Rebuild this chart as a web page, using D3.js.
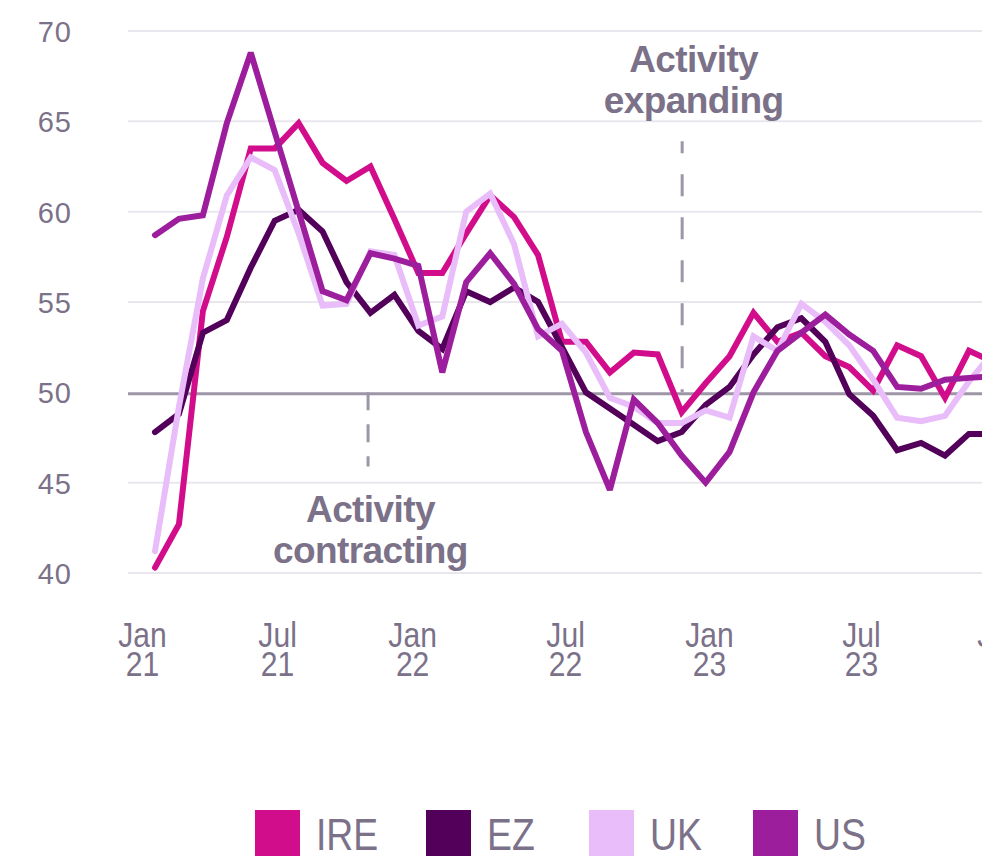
<!DOCTYPE html>
<html>
<head>
<meta charset="utf-8">
<script src="https://cdn.jsdelivr.net/npm/d3@7"></script>
<style>
  html, body { margin: 0; padding: 0; background: #ffffff; }
  svg { display: block; }
</style>
</head>
<body>
<svg id="chart" width="982" height="856"></svg>
<script>
// ---------- DATA ----------
const months = d3.timeMonth.range(new Date(2021, 0, 1), new Date(2024, 0, 1)); // Jan 21 .. Dec 23

const seriesNames = ["IRE", "EZ", "UK", "US"];

const ire = [40.3, 42.7, 54.5, 58.6, 63.5, 63.5, 64.9, 62.7, 61.7, 62.5, 59.6, 56.6,
             56.6, 58.8, 60.9, 59.7, 57.6, 52.8, 52.8, 51.1, 52.2, 52.1, 48.9, 50.5,
             52.0, 54.4, 52.8, 53.3, 52.0, 51.4, 50.1, 52.6, 52.0, 49.7, 52.3, 51.7];

const ez  = [47.8, 48.8, 53.3, 54.0, 56.9, 59.5, 60.1, 58.9, 56.1, 54.4, 55.4, 53.4,
             52.4, 55.6, 55.0, 55.8, 55.0, 52.5, 50.0, 49.1, 48.2, 47.3, 47.8, 49.3,
             50.3, 52.1, 53.6, 54.1, 52.8, 49.9, 48.7, 46.8, 47.2, 46.5, 47.7, 47.7];

const uk  = [41.2, 49.2, 56.3, 60.9, 63.0, 62.3, 58.8, 54.8, 54.9, 57.8, 57.6, 53.7,
             54.2, 60.0, 61.0, 58.2, 53.1, 53.8, 52.2, 49.7, 49.2, 48.3, 48.3, 49.0,
             48.6, 53.1, 52.3, 54.9, 53.9, 52.6, 50.7, 48.6, 48.4, 48.7, 50.6, 52.2];

const us  = [58.7, 59.6, 59.8, 64.9, 68.8, 64.4, 60.0, 55.6, 55.1, 57.7, 57.4, 57.0,
             51.1, 56.1, 57.7, 56.0, 53.5, 52.3, 47.8, 44.6, 49.6, 48.3, 46.5, 45.0,
             46.7, 50.0, 52.3, 53.3, 54.3, 53.2, 52.3, 50.3, 50.2, 50.7, 50.8, 50.9];

const yTicks = [40, 45, 50, 55, 60, 65, 70];
const xTickLabels = [["Jan", "21"], ["Jul", "21"], ["Jan", "22"], ["Jul", "22"], ["Jan", "23"], ["Jul", "23"], ["Jan", "24"]];

const annotations = [
  { lines: ["Activity", "expanding"], from: 50, to: 63.9 },
  { lines: ["Activity", "contracting"], from: 50, to: 45.9 }
];

// ---------- LAYOUT / STYLE ----------
const colors = { IRE: "#d20d8b", EZ: "#520059", UK: "#e9bdf9", US: "#9c1e9c" };
const textColor = "#7b7189";
const plotLeft = 128, plotRight = 982;
const monthStep = 23.94;
const x0 = 155;
// label anchor positions in month-index units (as placed in the original)
const xTickPos = [-0.54, 5.10, 10.74, 17.13, 23.14, 29.49, 35.34];
const annotX = [22.02, 8.9];     // month index of dashed markers
const annotTextX = [22.5, 9.0];

const svg = d3.select("#chart");
const x = d3.scaleLinear().domain([0, months.length - 1]).range([x0, x0 + monthStep * (months.length - 1)]);
const y = d3.scaleLinear().domain([40, 70]).range([573, 31]);

// gridlines
svg.append("g").selectAll("line").data(yTicks.filter(d => d !== 50)).join("line")
  .attr("x1", plotLeft).attr("x2", plotRight)
  .attr("y1", d => y(d)).attr("y2", d => y(d))
  .attr("stroke", "#e9e7ed").attr("stroke-width", 2);

// y axis labels
const yAxis = d3.axisLeft(y).tickValues(yTicks).tickSize(0).tickPadding(0);
const gy = svg.append("g").attr("transform", "translate(72,0)").call(yAxis);
gy.select(".domain").remove();
gy.selectAll("text")
  .attr("fill", textColor)
  .attr("font-family", "'Liberation Sans', Arial, sans-serif")
  .attr("font-size", 29)
  .attr("letter-spacing", 1)
  .attr("dy", "0.36em");

// dashed annotation markers
svg.append("line")
  .attr("x1", x(annotX[0])).attr("x2", x(annotX[0]))
  .attr("y1", y(annotations[0].to)).attr("y2", y(annotations[0].from))
  .attr("stroke", "#9e95a7").attr("stroke-width", 3)
  .attr("stroke-dasharray", "22,21").attr("stroke-dashoffset", 10);
svg.append("line")
  .attr("x1", x(annotX[1])).attr("x2", x(annotX[1]))
  .attr("y1", y(annotations[1].from)).attr("y2", y(annotations[1].to))
  .attr("stroke", "#9e95a7").attr("stroke-width", 3)
  .attr("stroke-dasharray", "18,14");

// 50 line
svg.append("line")
  .attr("x1", plotLeft).attr("x2", plotRight)
  .attr("y1", y(50) + 1.5).attr("y2", y(50) + 1.5)
  .attr("stroke", "#9e95a7").attr("stroke-width", 3);

// annotation texts
const annotBase = [[72, 113], [522, 563]];
annotations.forEach((a, k) => {
  const t = svg.append("text")
    .attr("text-anchor", "middle")
    .attr("fill", textColor)
    .attr("font-family", "'Liberation Sans', Arial, sans-serif")
    .attr("font-weight", "bold")
    .attr("font-size", 37)
    .attr("letter-spacing", -0.6);
  a.lines.forEach((ln, j) => {
    t.append("tspan").attr("x", x(annotTextX[k])).attr("y", annotBase[k][j]).text(ln);
  });
});

// lines
const all = { IRE: ire, EZ: ez, UK: uk, US: us };
const line = d3.line().x((d, i) => x(i)).y(d => y(d));
svg.append("g").selectAll("path").data(seriesNames).join("path")
  .attr("d", n => line(all[n]))
  .attr("fill", "none")
  .attr("stroke", n => colors[n])
  .attr("stroke-width", 6)
  .attr("stroke-linejoin", "miter")
  .attr("stroke-miterlimit", 3)
  .attr("stroke-linecap", "round");

// x axis labels (condensed look via horizontal scale)
const xAxis = d3.axisBottom(x).tickValues(xTickPos).tickSize(0).tickFormat("");
const gx = svg.append("g").call(xAxis);
gx.select(".domain").remove();
gx.selectAll(".tick").each(function (d, i) {
  const t = d3.select(this).select("text")
    .attr("y", 0)
    .attr("dy", null)
    .attr("transform", "scale(0.86,1)")
    .attr("fill", textColor)
    .attr("font-family", "'Liberation Sans', Arial, sans-serif")
    .attr("font-size", 35)
    .attr("text-anchor", "middle");
  t.append("tspan").attr("x", 0).attr("y", 647).text(xTickLabels[i][0]);
  t.append("tspan").attr("x", 0).attr("y", 676).text(xTickLabels[i][1]);
});

// legend
const legendX = [255, 426, 589, 753];
const lg = svg.append("g");
seriesNames.forEach((n, i) => {
  lg.append("rect").attr("x", legendX[i]).attr("y", 810).attr("width", 45).attr("height", 46).attr("fill", colors[n]);
  lg.append("text")
    .attr("transform", `translate(${legendX[i] + 61},850) scale(0.83,1)`)
    .attr("fill", textColor)
    .attr("font-family", "'Liberation Sans', Arial, sans-serif")
    .attr("font-size", 45)
    .text(n);
});
</script>
</body>
</html>
